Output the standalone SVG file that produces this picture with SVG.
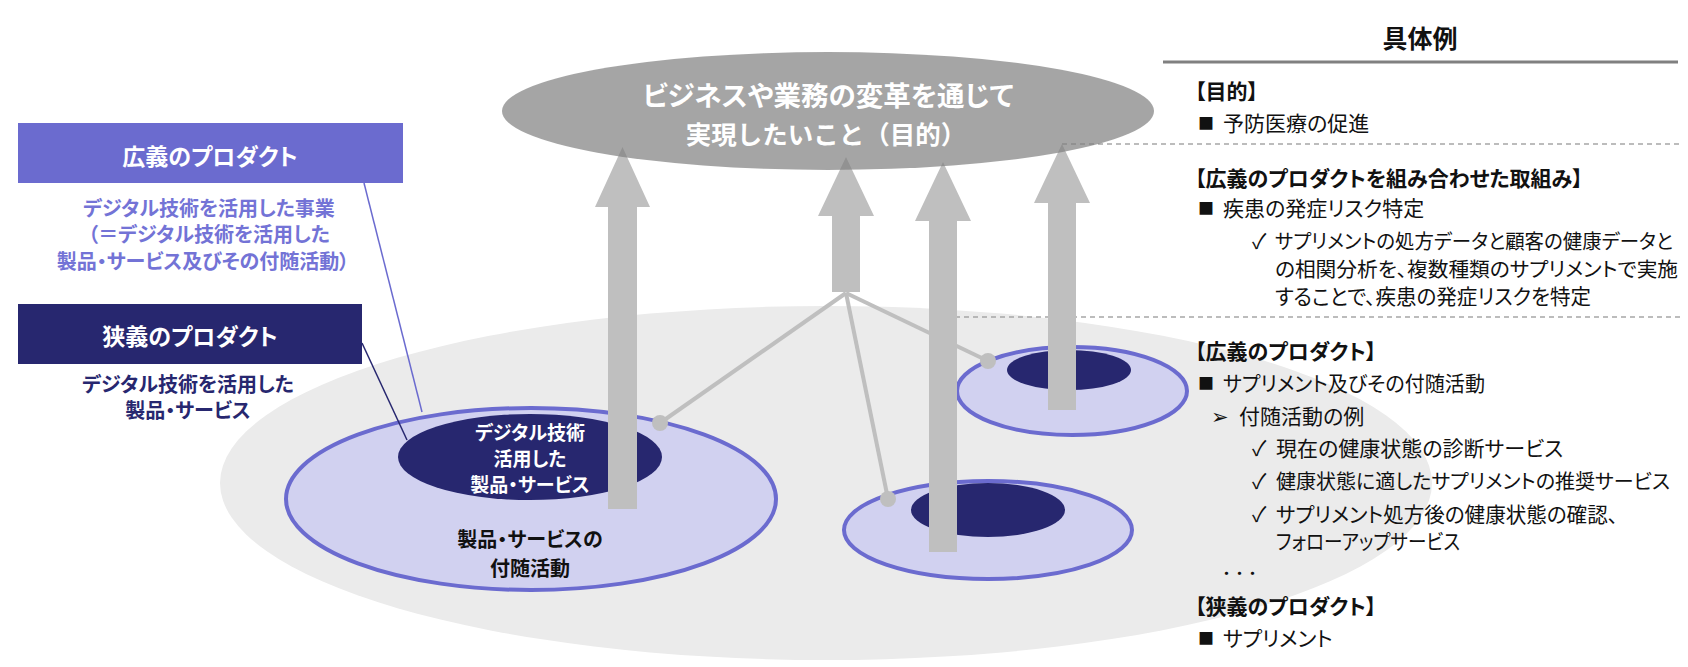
<svg xmlns="http://www.w3.org/2000/svg" width="1688" height="667" viewBox="0 0 1688 667">
<style>
text{font-family:"Noto Sans CJK JP","Noto Sans CJK SC","DejaVu Sans",sans-serif;font-feature-settings:"palt" 1;dominant-baseline:central}
.b{font-weight:700}
.w{fill:#fff}
.c{text-anchor:middle}
.np{font-feature-settings:normal}
.outer{fill:#d1d1f0;stroke:#6b6bcf;stroke-width:4}
.inner{fill:#27276f}
.arrow{fill:#bfbfbf}
.conn{stroke:#bfbfbf;stroke-width:4;fill:none}
.dot{fill:#bfbfbf}
.dash{stroke:#a6a6a6;stroke-width:1.5;stroke-dasharray:5 4;fill:none}
.body{font-size:21px;fill:#111}
.body2{font-size:20px;fill:#111}
.hd{font-size:21px;font-weight:700;fill:#111}
.sq{font-size:16px;fill:#111}
</style>

<g id="platform">
<ellipse cx="826" cy="483" rx="606" ry="177" fill="#ebebeb"/>
</g>

<g id="separators">
<line x1="1163" y1="62" x2="1678" y2="62" stroke="#808080" stroke-width="3"/>
<line class="dash" x1="1062" y1="144" x2="1680" y2="144"/>
<line class="dash" x1="955" y1="317" x2="1680" y2="317"/>
</g>

<g id="product1">
<ellipse class="outer" cx="531" cy="499" rx="245" ry="91"/>
<ellipse class="inner" cx="530" cy="457" rx="132" ry="43"/>
<text class="b w c" font-size="19" x="530" y="431">デジタル技術</text>
<text class="b w c" font-size="19" x="530" y="457">活用した</text>
<text class="b w c" font-size="19" x="530" y="483">製品・サービス</text>
<text class="b c" font-size="20" fill="#111" x="530" y="538">製品・サービスの</text>
<text class="b c" font-size="20" fill="#111" x="530" y="567">付随活動</text>
</g>

<g id="product2">
<ellipse class="outer" cx="988" cy="530" rx="144" ry="49"/>
<ellipse class="inner" cx="988" cy="510" rx="77" ry="27"/>
</g>

<g id="product3">
<ellipse class="outer" cx="1072" cy="391" rx="115" ry="44"/>
<ellipse class="inner" cx="1069" cy="370" rx="62" ry="20"/>
</g>

<g id="connectors">
<line class="conn" x1="846" y1="293" x2="660" y2="423"/>
<line class="conn" x1="846" y1="293" x2="888" y2="499"/>
<line class="conn" x1="846" y1="293" x2="988" y2="361"/>
<circle class="dot" cx="660" cy="423" r="8"/>
<circle class="dot" cx="888" cy="499" r="8"/>
<circle class="dot" cx="988" cy="361" r="8"/>
<path class="arrow" d="M608,509 V207 H595 L622.5,147 L650,207 H637 V509 Z"/>
<path class="arrow" d="M832,292 V216 H818 L846,157 L874,216 H860 V292 Z"/>
<path class="arrow" d="M929,552 V221 H915 L943,162 L971,221 H957 V552 Z"/>
<path class="arrow" d="M1048,410 V203 H1034 L1062,144 L1090,203 H1076 V410 Z"/>
</g>

<g id="goal">
<ellipse cx="828" cy="111" rx="326" ry="59" fill="#7f7f7f" fill-opacity="0.7"/>
<text class="b w c" font-size="27.5" x="828" y="94">ビジネスや業務の変革を通じて</text>
<text class="b w c np" font-size="25.5" x="826" y="132">実現したいこと（目的）</text>
</g>

<g id="broad-label">
<line x1="364" y1="183" x2="422" y2="412" stroke="#6b6bcf" stroke-width="1.5"/>
<rect x="18" y="123" width="385" height="60" fill="#6b6bcf"/>
<text class="b w c" font-size="23" x="210" y="155">広義のプロダクト</text>
<text class="b c" font-size="20" fill="#7373d6" x="209" y="207">デジタル技術を活用した事業</text>
<text class="b c" font-size="20" fill="#7373d6" x="209" y="233">（＝デジタル技術を活用した</text>
<text class="b c" font-size="20" fill="#7373d6" x="203" y="260">製品・サービス及びその付随活動）</text>
</g>

<g id="narrow-label">
<line x1="362" y1="343" x2="407" y2="440" stroke="#27276f" stroke-width="1.5"/>
<rect x="18" y="304" width="344" height="60" fill="#27276f"/>
<text class="b w c" font-size="23" x="190" y="335">狭義のプロダクト</text>
<text class="b c" font-size="20" fill="#27276f" x="188" y="383">デジタル技術を活用した</text>
<text class="b c" font-size="20" fill="#27276f" x="188" y="409">製品・サービス</text>
</g>

<g id="examples">
<text class="b c" font-size="25" fill="#111" x="1420" y="37">具体例</text>
<text class="hd" x="1195" y="90">【目的】</text>
<text class="sq" x="1198" y="122">■</text>
<text class="body" x="1223" y="122">予防医療の促進</text>
<text class="hd" x="1195" y="177">【広義のプロダクトを組み合わせた取組み】</text>
<text class="sq" x="1198" y="207">■</text>
<text class="body" x="1223" y="207">疾患の発症リスク特定</text>
<text class="body" x="1252" y="240">✓</text>
<text class="body2" x="1275" y="240" textLength="398" lengthAdjust="spacingAndGlyphs">サプリメントの処方データと顧客の健康データと</text>
<text class="body2" x="1275" y="268" textLength="403" lengthAdjust="spacingAndGlyphs">の相関分析を、複数種類のサプリメントで実施</text>
<text class="body" x="1275" y="295" textLength="316" lengthAdjust="spacingAndGlyphs">することで、疾患の発症リスクを特定</text>
<text class="hd" x="1195" y="350">【広義のプロダクト】</text>
<text class="sq" x="1198" y="382">■</text>
<text class="body" x="1223" y="382" textLength="262" lengthAdjust="spacingAndGlyphs">サプリメント及びその付随活動</text>
<text class="body" x="1211" y="415">➢</text>
<text class="body" x="1239" y="415">付随活動の例</text>
<text class="body" x="1252" y="447">✓</text>
<text class="body" x="1276" y="447">現在の健康状態の診断サービス</text>
<text class="body" x="1252" y="480">✓</text>
<text class="body2" x="1276" y="480" textLength="394" lengthAdjust="spacingAndGlyphs">健康状態に適したサプリメントの推奨サービス</text>
<text class="body" x="1252" y="513">✓</text>
<text class="body" x="1276" y="513" textLength="342" lengthAdjust="spacingAndGlyphs">サプリメント処方後の健康状態の確認、</text>
<text class="body" x="1276" y="540" textLength="184" lengthAdjust="spacingAndGlyphs">フォローアップサービス</text>
<text class="b np" font-size="13" fill="#111" x="1220" y="572">・・・</text>
<text class="hd" x="1195" y="605">【狭義のプロダクト】</text>
<text class="sq" x="1198" y="637">■</text>
<text class="body" x="1223" y="637">サプリメント</text>
</g>
</svg>
